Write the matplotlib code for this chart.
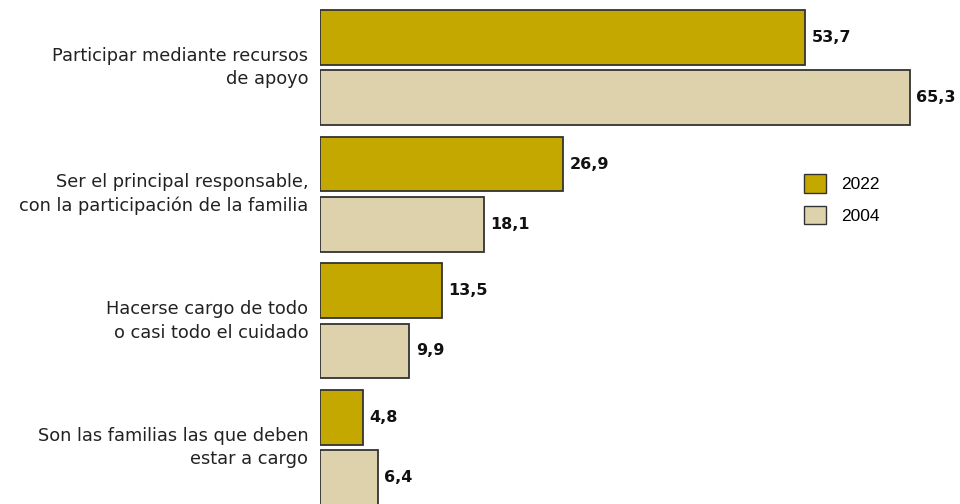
import matplotlib.pyplot as plt
from matplotlib.patches import Patch

categories = [
    "Participar mediante recursos\nde apoyo",
    "Ser el principal responsable,\ncon la participación de la familia",
    "Hacerse cargo de todo\no casi todo el cuidado",
    "Son las familias las que deben\nestar a cargo",
]
years = ["2022", "2004"]
v2022 = [53.7, 26.9, 13.5, 4.8]
v2004 = [65.3, 18.1, 9.9, 6.4]

colors = {"2022": "#C4A800", "2004": "#DDD2AC"}
edge = "#333333"

fig = plt.figure(figsize=(9.6, 5.04), dpi=100)
ax = fig.add_axes([320 / 960, 0, 640 / 960, 1])

h = 0.43
off = 0.238
ys = list(range(len(categories)))
for vals, yr, sign in [(v2022, "2022", -1), (v2004, "2004", 1)]:
    pos = [y + sign * off for y in ys]
    ax.barh(pos, vals, height=h, color=colors[yr], edgecolor=edge, linewidth=1.3)
    for p, v in zip(pos, vals):
        ax.text(v + 0.7, p, f"{v:.1f}".replace(".", ","), va="center", ha="left",
                fontsize=11.5, fontweight="bold", family="DejaVu Sans", color="#111111")

for y, c in zip(ys, categories):
    ax.text(-1.3, y, c, ha="right", va="center", fontsize=12.8, family="DejaVu Sans",
            color="#222222", linespacing=1.4, clip_on=False)

ax.set_xlim(0, 640 / 9.035)
ax.set_ylim(3 + 56.5 / 126.7, -67.5 / 126.7)
ax.axis("off")

handles = [Patch(facecolor=colors[y], edgecolor=edge, linewidth=1.0) for y in years]
fig.legend(handles, years, loc="upper left", bbox_to_anchor=(788 / 960, 1 - 158 / 504),
           frameon=False, prop={"family": "Liberation Sans", "size": 12.5},
           handlelength=1.3, handleheight=1.3, handletextpad=0.85, labelspacing=0.75)

fig.savefig("out.png", dpi=100)
